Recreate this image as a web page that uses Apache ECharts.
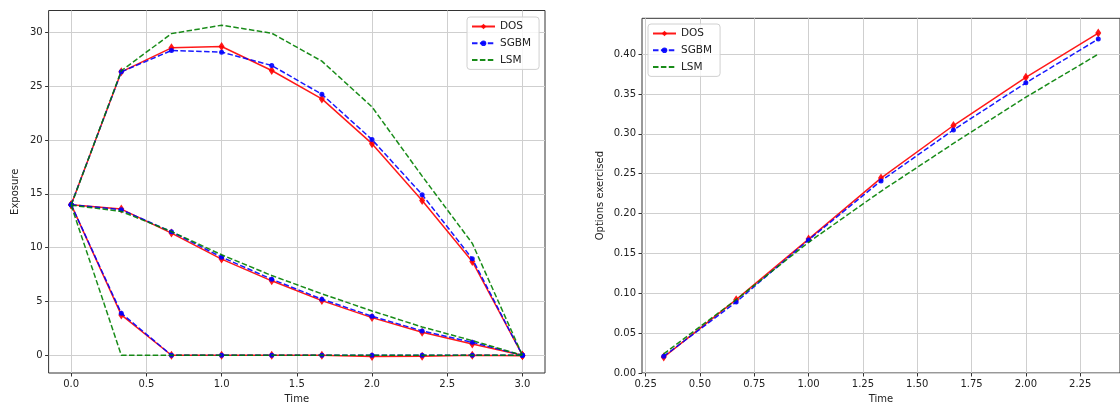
<!DOCTYPE html>
<html>
<head>
<meta charset="utf-8">
<script src="https://cdn.jsdelivr.net/npm/echarts@6/dist/echarts.min.js"></script>
<style>
html,body{margin:0;padding:0;background:#fff;}
#c{width:1120px;height:409px;}
</style>
</head>
<body>
<div id="c"></div>
<script>
// ---- data ----
const tLeft = [0, 0.3333, 0.6667, 1, 1.3333, 1.6667, 2, 2.3333, 2.6667, 3];
const dosUpper  = [14.0, 26.35, 28.58, 28.7, 26.47, 23.83, 19.67, 14.39, 8.72, 0.0];
const sgbmUpper = [14.0, 26.35, 28.33, 28.18, 26.94, 24.26, 20.05, 14.93, 8.97, 0.0];
const lsmUpper  = [13.95, 26.45, 29.9, 30.68, 29.94, 27.34, 23.09, 16.65, 10.4, 0.0];
const dosMid    = [14.0, 13.59, 11.36, 8.94, 6.92, 5.08, 3.5, 2.14, 1.05, 0.0];
const sgbmMid   = [14.0, 13.53, 11.48, 9.12, 7.07, 5.21, 3.63, 2.26, 1.21, 0.0];
const lsmMid    = [13.95, 13.37, 11.5, 9.34, 7.41, 5.71, 4.12, 2.63, 1.36, 0.0];
const dosLow    = [14.0, 3.75, 0.0, 0.0, 0.0, 0.0, -0.12, -0.1, 0.0, -0.04];
const sgbmLow   = [14.0, 3.91, 0.0, 0.0, 0.0, 0.0, 0.0, 0.0, 0.0, 0.0];
const lsmLow    = [13.95, 0.0, 0.0, 0.0, 0.0, 0.0, 0.0, 0.0, 0.0, 0.0];

const tRight = [0.3333, 0.6667, 1, 1.3333, 1.6667, 2, 2.3333];
const dosEx  = [0.020, 0.092, 0.168, 0.2445, 0.3105, 0.371, 0.4265];
const sgbmEx = [0.021, 0.089, 0.167, 0.241, 0.305, 0.364, 0.419];
const lsmEx  = [0.024, 0.092, 0.164, 0.228, 0.288, 0.346, 0.400];

const xTicksLeft  = [0, 0.5, 1, 1.5, 2, 2.5, 3];
const yTicksLeft  = [0, 5, 10, 15, 20, 25, 30];
const xTicksRight = [0.25, 0.5, 0.75, 1, 1.25, 1.5, 1.75, 2, 2.25];
const yTicksRight = [0, 0.05, 0.1, 0.15, 0.2, 0.25, 0.3, 0.35, 0.4];

// ---- styles ----
const FONT = 'DejaVu Sans';
const RED = '#ff0000', BLUE = '#0000ff', GREEN = '#008000';
const DASH = [5.5, 2.4];

function pairs(t, v){ return t.map((x,i)=>[x, v[i]]); }

function axisCommon(ticks, digits){
  return {
    axisLine:{show:false, onZero:false},
    axisTick:{show:true, length:3.5, customValues:ticks, lineStyle:{color:'#333', width:1}},
    axisLabel:{customValues:ticks, color:'#222', fontFamily:FONT, fontSize:10, margin:6,
               formatter:(v)=>Number(v).toFixed(digits)},
    splitLine:{show:true, lineStyle:{color:'#cfcfcf', width:1}},
    nameTextStyle:{color:'#222', fontFamily:FONT, fontSize:10},
    nameLocation:'middle'
  };
}

function dosSeries(data, xi){
  return {name:'DOS', type:'line', xAxisIndex:xi, yAxisIndex:xi, data:data,
    symbol:'diamond', symbolSize:[6,9], showSymbol:true,
    lineStyle:{color:RED, width:1.5, opacity:0.9}, itemStyle:{color:RED, opacity:0.9},
    emphasis:{disabled:true}, animation:false, z:2};
}
function sgbmSeries(data, xi){
  return {name:'SGBM', type:'line', xAxisIndex:xi, yAxisIndex:xi, data:data,
    symbol:'circle', symbolSize:5, showSymbol:true,
    lineStyle:{color:BLUE, width:1.5, type:DASH, opacity:0.9}, itemStyle:{color:BLUE, opacity:0.9},
    emphasis:{disabled:true}, animation:false, z:3};
}
function lsmSeries(data, xi){
  return {name:'LSM', type:'line', xAxisIndex:xi, yAxisIndex:xi, data:data,
    symbol:'none',
    lineStyle:{color:GREEN, width:1.5, type:DASH, opacity:0.9}, itemStyle:{color:GREEN},
    emphasis:{disabled:true}, animation:false, z:4};
}

const legendCommon = {
  orient:'vertical', itemWidth:23, itemHeight:7, itemGap:5.7,
  backgroundColor:'rgba(255,255,255,0.8)', borderColor:'#d0d0d0', borderWidth:1, borderRadius:3,
  padding:[4,8,4,4], selectedMode:false,
  textStyle:{color:'#222', fontFamily:FONT, fontSize:10.5, lineHeight:11},
  data:[
    {name:'DOS'},
    {name:'SGBM'},
    {name:'LSM', itemStyle:{opacity:0}}
  ]
};

const chart = echarts.init(document.getElementById('c'), null, {renderer:'canvas'});
chart.setOption({
  backgroundColor:'#fff',
  animation:false,
  grid:[
    {left:48.6, top:10.5, width:496.4, height:362.5, show:true, borderColor:'#333', borderWidth:1, backgroundColor:'transparent'},
    {left:642, top:18.3, width:487.6, height:355, show:true, borderColor:'#333', borderWidth:1, backgroundColor:'transparent'}
  ],
  legend:[
    Object.assign({}, legendCommon, {left:467, top:17}),
    Object.assign({}, legendCommon, {left:648, top:24})
  ],
  xAxis:[
    Object.assign(axisCommon(xTicksLeft,1), {type:'value', gridIndex:0, min:-0.15, max:3.15, name:'Time', nameGap:21}),
    Object.assign(axisCommon(xTicksRight,2), {type:'value', gridIndex:1, min:0.2333, max:2.4333, name:'Time', nameGap:21})
  ],
  yAxis:[
    Object.assign(axisCommon(yTicksLeft,0), {type:'value', gridIndex:0, min:-1.65, max:32.05, name:'Exposure', nameGap:28}),
    Object.assign(axisCommon(yTicksRight,2), {type:'value', gridIndex:1, min:0, max:0.445, name:'Options exercised', nameGap:37})
  ],
  series:[
    dosSeries(pairs(tLeft,dosUpper),0), sgbmSeries(pairs(tLeft,sgbmUpper),0), lsmSeries(pairs(tLeft,lsmUpper),0),
    dosSeries(pairs(tLeft,dosMid),0),   sgbmSeries(pairs(tLeft,sgbmMid),0),   lsmSeries(pairs(tLeft,lsmMid),0),
    dosSeries(pairs(tLeft,dosLow),0),   sgbmSeries(pairs(tLeft,sgbmLow),0),   lsmSeries(pairs(tLeft,lsmLow),0),
    dosSeries(pairs(tRight,dosEx),1),   sgbmSeries(pairs(tRight,sgbmEx),1),   lsmSeries(pairs(tRight,lsmEx),1)
  ]
});
</script>
</body>
</html>
